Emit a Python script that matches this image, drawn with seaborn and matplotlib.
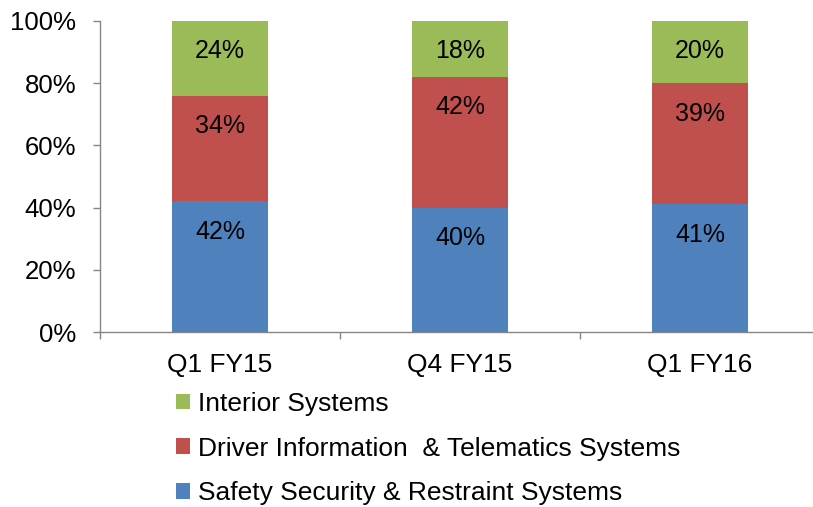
import pandas as pd
import seaborn as sns
import matplotlib.pyplot as plt
from matplotlib.patches import Patch
from matplotlib.ticker import FuncFormatter, FixedLocator

quarters = ['Q1 FY15', 'Q4 FY15', 'Q1 FY16']
safety = [42, 40, 41]
driver = [34, 42, 39]
interior = [24, 18, 20]

series_names = ['Safety Security & Restraint Systems',
                'Driver Information  & Telematics Systems',
                'Interior Systems']
colors = ['#4F81BD', '#C0504D', '#9BBB59']

sns.set_style('white')
plt.rcParams['font.family'] = ['Liberation Sans', 'DejaVu Sans']

df = pd.DataFrame({'quarter': quarters, 'safety': safety,
                   'driver': driver, 'interior': interior})
df['safety_top'] = df['safety']
df['driver_top'] = df['safety'] + df['driver']
df['interior_top'] = df['driver_top'] + df['interior']

fig = plt.figure(figsize=(8.13, 5.07), dpi=100)
ax = fig.add_axes([100 / 813, 1 - 332 / 507, 720 / 813, 311 / 507])

# stacked bars: draw cumulative totals back to front
for col, color in zip(['interior_top', 'driver_top', 'safety_top'], colors[::-1]):
    sns.barplot(data=df, x='quarter', y=col, color=color, width=0.4,
                saturation=1, linewidth=0, ax=ax)

# data labels just inside the top of each segment
for i in range(len(quarters)):
    for col, val_col in [('safety_top', 'safety'), ('driver_top', 'driver'),
                         ('interior_top', 'interior')]:
        ax.annotate(f"{df[val_col][i]}%", xy=(i, df[col][i]), xytext=(0, -27),
                    textcoords='offset points', ha='center', va='baseline',
                    fontsize=18, color='black')

ax.set_xlim(-0.5, 2.5)
ax.set_ylim(0, 100)
ax.set_xlabel('')
ax.set_ylabel('')
ax.set_yticks(range(0, 101, 20))
ax.yaxis.set_major_formatter(FuncFormatter(lambda v, p: f"{int(v)}%"))
ax.xaxis.set_minor_locator(FixedLocator([-0.5, 0.5, 1.5, 2.5]))
ax.tick_params(axis='x', which='major', bottom=True, length=0, labelsize=19,
               pad=15, labelcolor='black')
ax.tick_params(axis='x', which='minor', bottom=True, length=5, width=1,
               color='#868686')
ax.tick_params(axis='y', left=True, length=5, width=1, color='#868686',
               labelsize=18.5, pad=12, labelcolor='black')

for side in ['top', 'right']:
    ax.spines[side].set_visible(False)
for side in ['left', 'bottom']:
    ax.spines[side].set_color('#868686')
    ax.spines[side].set_linewidth(1)

handles = [Patch(facecolor=c, edgecolor='none') for c in colors[::-1]]
fig.legend(handles, series_names[::-1], loc='upper left',
           bbox_to_anchor=(176 / 813, 1 - 392 / 507), frameon=False,
           fontsize=19, handlelength=0.53, handleheight=0.53, labelcolor='black',
           handletextpad=0.3, labelspacing=0.78, borderpad=0, borderaxespad=0)

fig.savefig('out.png', dpi=100)
